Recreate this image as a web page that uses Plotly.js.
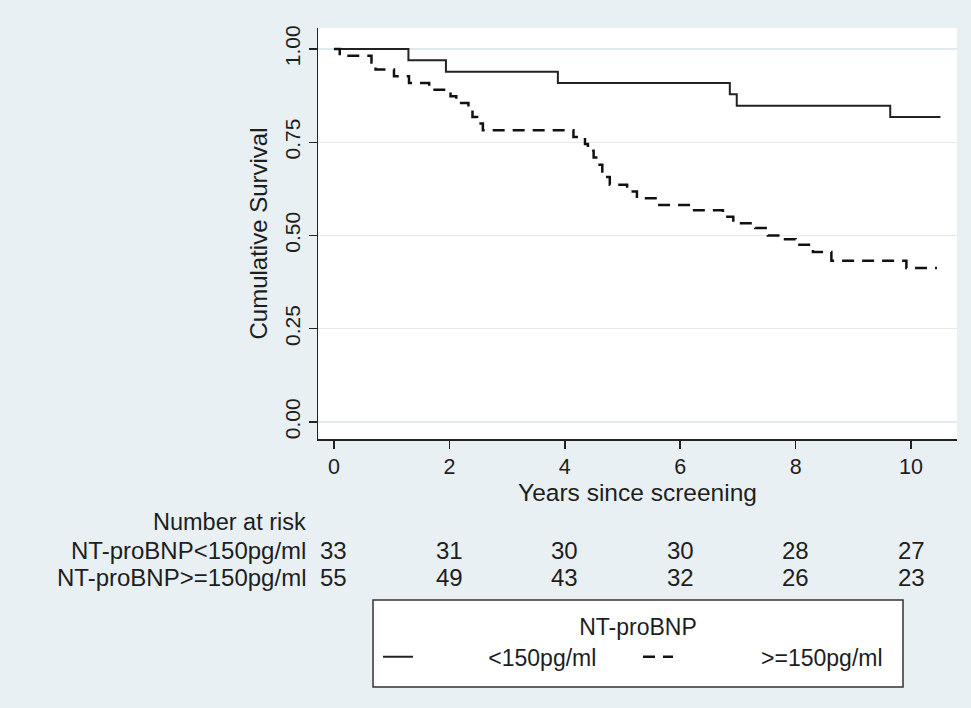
<!DOCTYPE html>
<html>
<head>
<meta charset="utf-8">
<script src="https://cdn.plot.ly/plotly-3.0.1.min.js"></script>
<style>
  html, body { margin: 0; padding: 0; background: #e8f0f3; }
  #chart { width: 971px; height: 708px; }
</style>
</head>
<body>
<div id="chart"></div>
<script>
// Kaplan-Meier step data
const timesLow = [0, 1.29, 1.94, 3.88, 6.86, 6.98, 9.64, 10.51];
const survLow  = [1.0, 0.970, 0.939, 0.909, 0.879, 0.848, 0.818, 0.818];

const timesHigh = [0, 0.10, 0.65, 0.72, 1.04, 1.30, 1.65, 2.02, 2.12, 2.33,
                   2.40, 2.48, 2.58, 4.15, 4.35, 4.40, 4.50, 4.58, 4.65, 4.78,
                   5.08, 5.25, 5.60, 6.20, 6.74, 6.92, 7.30, 7.52, 7.70, 8.00,
                   8.30, 8.62, 9.92, 10.45];
const survHigh  = [1.0, 0.982, 0.964, 0.945, 0.927, 0.909, 0.891, 0.873, 0.855, 0.836,
                   0.818, 0.800, 0.782, 0.764, 0.745, 0.727, 0.709, 0.690, 0.657, 0.636,
                   0.618, 0.600, 0.582, 0.568, 0.550, 0.533, 0.520, 0.500, 0.490, 0.475,
                   0.456, 0.432, 0.413, 0.413];

const seriesNames = ['<150pg/ml', '>=150pg/ml'];
const legendTitle = 'NT-proBNP';

// Number at risk table
const riskTimes = [0, 2, 4, 6, 8, 10];
const riskLow   = [33, 31, 30, 30, 28, 27];
const riskHigh  = [55, 49, 43, 32, 26, 23];
const riskHeader = 'Number at risk';
const riskRowLabels = ['NT-proBNP<150pg/ml', 'NT-proBNP>=150pg/ml'];

// Axes
const xTicks = [0, 2, 4, 6, 8, 10];
const yTicks = [0, 0.25, 0.5, 0.75, 1.0];
const yTickText = ['0.00', '0.25', '0.50', '0.75', '1.00'];
const xTitle = 'Years since screening';
const yTitle = 'Cumulative Survival';

const FONT = 'Arial, "Liberation Sans", sans-serif';
const TXT = '#1e1e1e';
const pad = n => '\u00a0'.repeat(n);

const traces = [
  { x: timesLow, y: survLow, type: 'scatter', mode: 'lines', name: pad(11) + seriesNames[0],
    line: { shape: 'hv', color: '#222222', width: 2, dash: 'solid' } },
  { x: timesHigh, y: survHigh, type: 'scatter', mode: 'lines', name: pad(13) + seriesNames[1],
    line: { shape: 'hv', color: '#111111', width: 2.5, dash: '12px,8px' } }
];

const annotations = [];
const rowY = [-0.2725, -0.338];
const labelX = -0.0156;
annotations.push({ xref: 'paper', yref: 'paper', x: labelX, y: -0.202, xanchor: 'right', yanchor: 'middle',
  text: riskHeader, showarrow: false, font: { family: FONT, size: 23.5, color: TXT } });
[riskLow, riskHigh].forEach((row, r) => {
  annotations.push({ xref: 'paper', yref: 'paper', x: labelX, y: rowY[r], xanchor: 'right', yanchor: 'middle',
    text: riskRowLabels[r], showarrow: false, font: { family: FONT, size: 24, color: TXT } });
  row.forEach((v, i) => {
    annotations.push({ xref: 'x', yref: 'paper', x: riskTimes[i], y: rowY[r], xanchor: 'center', yanchor: 'middle',
      text: String(v), showarrow: false, font: { family: FONT, size: 24, color: TXT } });
  });
});

const layout = {
  width: 971, height: 708,
  paper_bgcolor: '#e8f0f3',
  plot_bgcolor: '#ffffff',
  margin: { l: 318, r: 14, t: 28, b: 269, pad: 0 },
  font: { family: FONT, size: 21, color: TXT },
  showlegend: true,
  xaxis: {
    range: [-0.277, 10.797], tickvals: xTicks, ticks: 'outside', ticklen: 8, tickwidth: 1.5, tickcolor: '#222',
    showline: true, linecolor: '#222', linewidth: 1.5, showgrid: false, zeroline: false,
    tickfont: { family: FONT, size: 21.5, color: TXT },
    title: { text: xTitle, font: { family: FONT, size: 24.5, color: TXT }, standoff: 1 }
  },
  yaxis: {
    range: [-0.0456, 1.0563], tickvals: yTicks, ticktext: yTickText, tickangle: -90,
    ticks: 'outside', ticklen: 8, tickwidth: 1.5, tickcolor: '#222',
    showline: true, linecolor: '#222', linewidth: 1.5, showgrid: true, gridcolor: '#e3eaed', gridwidth: 1.5,
    zeroline: false, tickfont: { family: FONT, size: 21, color: TXT },
    title: { text: yTitle, font: { family: FONT, size: 24, color: TXT }, standoff: 6 }
  },
  legend: {
    orientation: 'h', x: 0.0939, xanchor: 'left', y: -0.405, yanchor: 'top',
    bgcolor: 'rgba(0,0,0,0)', borderwidth: 0,
    font: { family: FONT, size: 23, color: TXT },
    title: { text: legendTitle, side: 'top center', font: { family: FONT, size: 23, color: TXT } },
    entrywidth: 215, entrywidthmode: 'pixels'
  },
  shapes: [
    { type: 'rect', xref: 'paper', yref: 'paper', x0: 0.0861, x1: 0.9155, y0: -0.6034, y1: -0.3917,
      fillcolor: '#ffffff', line: { color: '#333333', width: 1.5 }, layer: 'below' }
  ],
  annotations: annotations
};

Plotly.newPlot('chart', traces, layout, { displayModeBar: false, staticPlot: true });
</script>
</body>
</html>
